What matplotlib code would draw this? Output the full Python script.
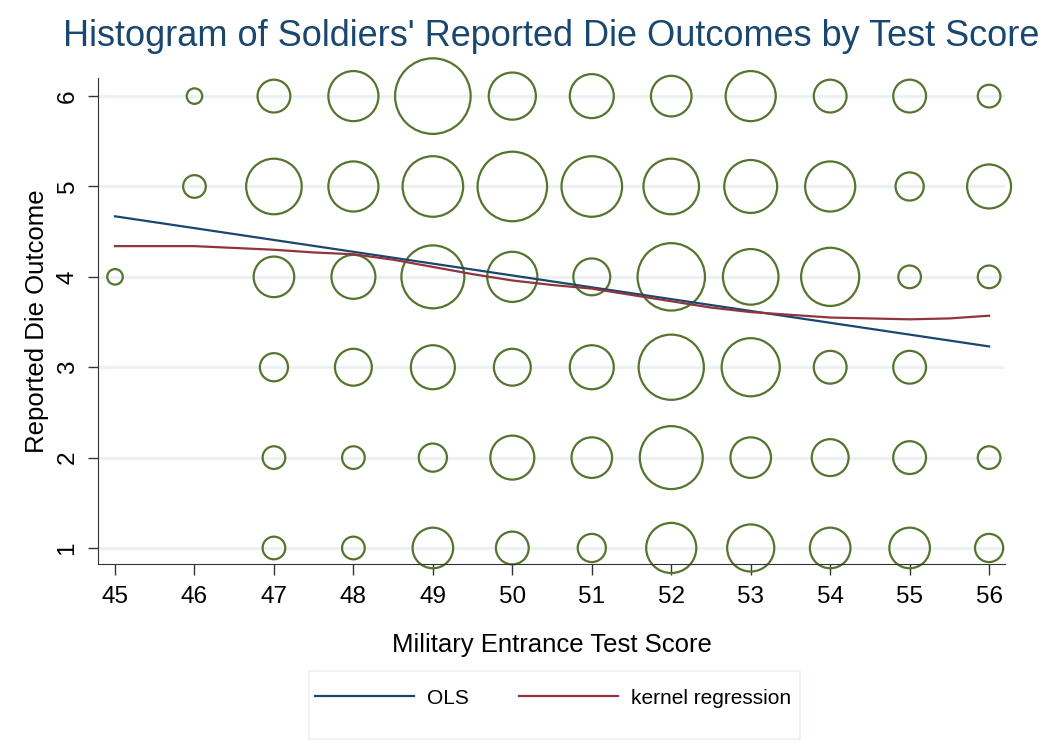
import numpy as np
import matplotlib
matplotlib.use("Agg")
import matplotlib.pyplot as plt
from matplotlib.patches import Rectangle

plt.rcParams['font.family'] = ['Liberation Sans', 'DejaVu Sans']

# test scores on x, reported die outcome on y
scores = list(range(45, 57))
outcomes = [1, 2, 3, 4, 5, 6]

# frequencies (0 = no bubble)
freq = {
    6: [0, 1, 4, 9, 20, 8, 7, 6, 9, 4, 4, 2],
    5: [0, 2, 11, 9, 13, 17, 13, 11, 10, 9, 3, 7],
    4: [1, 0, 6, 7, 14, 9, 5, 16, 11, 12, 2, 2],
    3: [0, 0, 3, 5, 7, 5, 7, 15, 12, 4, 4, 0],
    2: [0, 0, 2, 2, 3, 7, 6, 14, 6, 5, 4, 2],
    1: [0, 0, 2, 2, 6, 4, 3, 9, 8, 6, 6, 3],
}

# OLS fit end points
ols_x = [45, 56]
ols_y = [4.67, 3.23]

# kernel regression curve
kern_x = [45, 45.5, 46, 46.5, 47, 47.5, 48, 48.5, 49, 49.5, 50, 50.5, 51,
          51.5, 52, 52.5, 53, 53.5, 54, 54.5, 55, 55.5, 56]
kern_y = [4.34, 4.34, 4.34, 4.32, 4.30, 4.27, 4.25, 4.19, 4.11, 4.03, 3.96,
          3.91, 3.87, 3.80, 3.73, 3.66, 3.61, 3.58, 3.55, 3.54, 3.53, 3.54, 3.57]

W, H = 1055, 746
fig = plt.figure(figsize=(W / 100, H / 100), dpi=100)
ax = fig.add_axes([0.0929, 0.2440, 0.8597, 0.6514])

green = '#55752f'
navy = '#1a476f'
maroon = '#90353b'

for y in outcomes:
    ax.axhline(y, color='#eaf2f3', lw=2.2, zorder=0)

xs, ys, ss = [], [], []
for y in outcomes:
    for x, n in zip(scores, freq[y]):
        if n > 0:
            d_px = np.sqrt(n) * 17.3 - 1.8
            d_pt = d_px * 72 / 100
            xs.append(x)
            ys.append(y)
            ss.append(d_pt ** 2)
ax.scatter(xs, ys, s=ss, facecolors='none', edgecolors=green, linewidths=1.6,
           zorder=2, clip_on=False)

ax.plot(ols_x, ols_y, color=navy, lw=1.6, zorder=3, label='OLS')
ax.plot(kern_x, kern_y, color=maroon, lw=1.6, zorder=3, label='kernel regression')

ax.set_xlim(44.786, 56.2)
ax.set_ylim(0.823, 6.2)
ax.set_xticks(scores)
ax.set_yticks(outcomes)
ax.tick_params(axis='both', direction='out', length=8, width=1, labelsize=17.5,
               color='#333333')
ax.tick_params(axis='x', pad=8)
ax.tick_params(axis='y', length=7, pad=7)
for lab in ax.get_yticklabels():
    lab.set_rotation(90)
    lab.set_va('center')
ax.spines['top'].set_visible(False)
ax.spines['right'].set_visible(False)
ax.spines['left'].set_color('#333333')
ax.spines['bottom'].set_color('#333333')

ax.set_xlabel('Military Entrance Test Score', fontsize=18.5, labelpad=18)
ax.set_ylabel('Reported Die Outcome', fontsize=18.5, labelpad=5.5)

fig.text(0.5228, 1 - 37 / H,
         "Histogram of Soldiers' Reported Die Outcomes by Test Score",
         ha='center', va='center', fontsize=26, color=navy)

# legend box
fig.patches.append(Rectangle((309 / W, 1 - 739 / H), 491 / W, 68 / H,
                             transform=fig.transFigure, facecolor='white',
                             edgecolor='#eaf2f3', lw=1.2))
leg = fig.legend(loc='center', bbox_to_anchor=(553 / W, 1 - 698 / H), ncol=2,
                 fontsize=15, frameon=False, handlelength=4.75,
                 handletextpad=0.62, columnspacing=2.4)

fig.savefig('out.png', dpi=100, facecolor='white')
